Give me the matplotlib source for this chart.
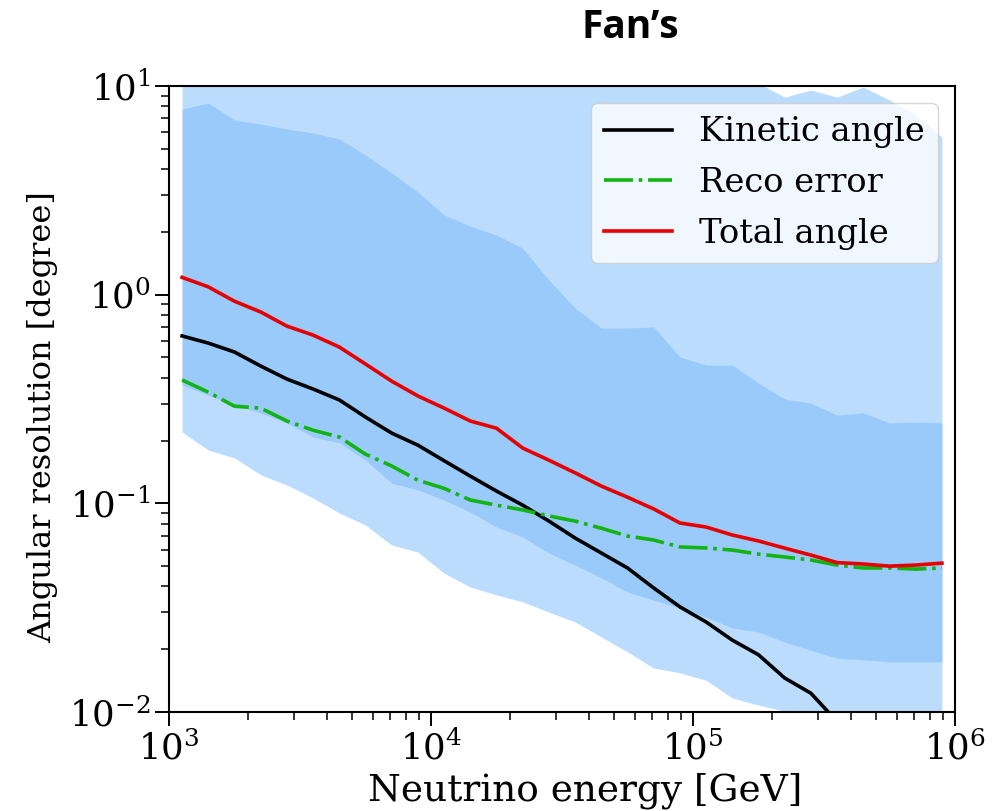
import numpy as np
import matplotlib
matplotlib.use("Agg")
import matplotlib.pyplot as plt

# Bin centres (0.1-decade bins from 1e3 to 1e6)
energy = [10 ** (3.05 + 0.1 * i) for i in range(30)]

kinetic = [0.634, 0.586, 0.531, 0.455, 0.394, 0.353, 0.313, 0.259, 0.217, 0.190,
           0.160, 0.135, 0.1145, 0.098, 0.0822, 0.0682, 0.0578, 0.049, 0.0393, 0.0319,
           0.027, 0.0221, 0.0188, 0.01455, 0.0123, 0.0090, 0.0075, 0.0062, 0.0052, 0.0044]

reco = [0.390, 0.341, 0.292, 0.286, 0.248, 0.224, 0.208, 0.172, 0.151, 0.129,
        0.118, 0.1037, 0.098, 0.093, 0.087, 0.0822, 0.076, 0.0697, 0.0667, 0.0618,
        0.0611, 0.0597, 0.0571, 0.0553, 0.0535, 0.0506, 0.049, 0.049, 0.0484, 0.049]

total = [1.21, 1.09, 0.93, 0.826, 0.707, 0.64, 0.561, 0.465, 0.385, 0.327,
         0.286, 0.248, 0.229, 0.184, 0.161, 0.140, 0.121, 0.107, 0.094, 0.0805,
         0.077, 0.0705, 0.066, 0.061, 0.0565, 0.052, 0.0512, 0.050, 0.0506, 0.0517]

inner_upper = [7.75, 8.28, 6.87, 6.57, 6.22, 5.95, 5.57, 4.67, 3.83, 3.10,
               2.41, 2.13, 1.93, 1.67, 1.175, 0.863, 0.692, 0.692, 0.70, 0.502,
               0.46, 0.46, 0.377, 0.316, 0.302, 0.265, 0.271, 0.243, 0.245, 0.243]

inner_lower = [0.369, 0.330, 0.296, 0.271, 0.243, 0.208, 0.195, 0.161, 0.125, 0.116,
               0.1037, 0.0908, 0.0770, 0.069, 0.0578, 0.0506, 0.0439, 0.0376, 0.0344, 0.0315,
               0.0285, 0.0253, 0.0242, 0.0216, 0.0198, 0.0181, 0.0178, 0.0174, 0.0174, 0.0174]

outer_upper = [14.0, 15.0, 14.5, 14.0, 14.0, 13.5, 13.0, 13.0, 12.5, 12.5,
               12.0, 12.0, 12.0, 11.5, 11.5, 11.5, 11.0, 11.0, 11.0, 11.0,
               10.8, 10.6, 10.3, 8.85, 9.56, 8.85, 9.88, 8.56, 7.26, 5.69]

outer_lower = [0.2196, 0.180, 0.165, 0.137, 0.1224, 0.106, 0.0899, 0.0787, 0.0631, 0.0584,
               0.0463, 0.0397, 0.0364, 0.0337, 0.0301, 0.027, 0.0229, 0.0194, 0.01625, 0.0154,
               0.0142, 0.01167, 0.0108, 0.0101, 0.0092, 0.0085, 0.0080, 0.0075, 0.0070, 0.0065]

plt.rcParams['font.family'] = ['DejaVu Serif']
TICK_FS = 25.5
XLAB_FS = 27
YLAB_FS = 23
LEG_FS = 24.3

fig = plt.figure(figsize=(9.98, 8.11), dpi=100)
ax = fig.add_axes([169 / 998, 1 - 712 / 811, (955 - 169) / 998, (712 - 86) / 811])

ax.fill_between(energy, outer_lower, outer_upper, color='#BBDCFC', lw=0)
ax.fill_between(energy, inner_lower, inner_upper, color='#99CAFA', lw=0)

ax.plot(energy, kinetic, color='black', lw=2.6, label='Kinetic angle')
ax.plot(energy, reco, color='#12B312', lw=2.6, linestyle=(0, (8, 1.6, 1, 1.6)),
        label='Reco error')
ax.plot(energy, total, color='#E60000', lw=2.6, label='Total angle')

ax.set_xscale('log')
ax.set_yscale('log')
ax.set_xlim(1e3, 1e6)
ax.set_ylim(1e-2, 1e1)

ax.set_xlabel('Neutrino energy [GeV]', fontsize=XLAB_FS)
ax.set_ylabel('Angular resolution [degree]', fontsize=YLAB_FS)
ax.xaxis.set_label_coords(0.529, -0.096)
ax.yaxis.set_label_coords(-0.141, 0.471)
ax.tick_params(axis='both', which='major', labelsize=TICK_FS, length=10, width=1.4)
ax.tick_params(axis='both', which='minor', length=5.5, width=1.1)
for s in ax.spines.values():
    s.set_linewidth(1.5)

ax.legend(loc='upper right', fontsize=LEG_FS, handlelength=2.0, borderaxespad=0.5,
          labelspacing=0.55)

fig.text(630 / 998, 1 - 28 / 811, 'Fan\u2019s', ha='center', va='center',
         fontsize=28, fontweight='bold', family=['Open Sans', 'DejaVu Sans'])

fig.savefig('out.png', dpi=100)
